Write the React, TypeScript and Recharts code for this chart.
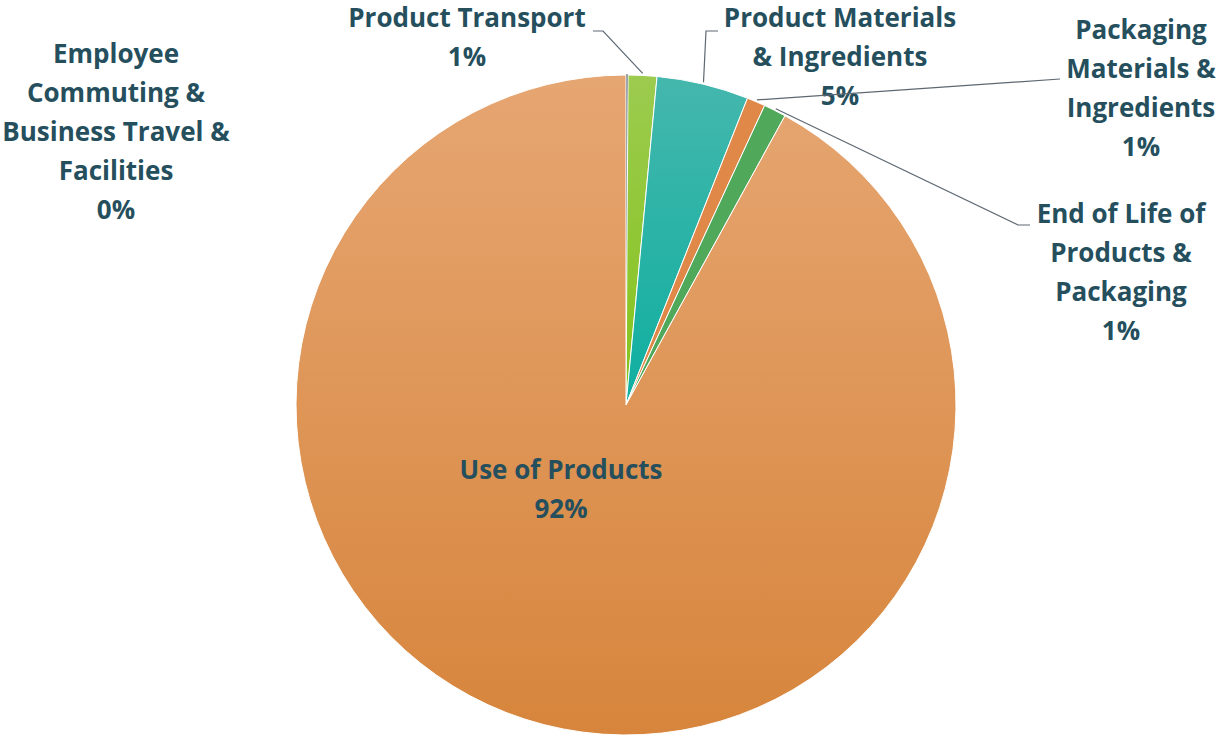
import React from "react";
import { PieChart, Pie, Cell } from "recharts";

const categories = [
  "Employee Commuting & Business Travel & Facilities",
  "Product Transport",
  "Product Materials & Ingredients",
  "Packaging Materials & Ingredients",
  "End of Life of Products & Packaging",
  "Use of Products",
];
const values = [0.1, 1.4, 4.5, 0.9, 1.1, 92.0];
const percentLabels = ["0%", "1%", "5%", "1%", "1%", "92%"];
const labelLines = [
  ["Employee", "Commuting &", "Business Travel &", "Facilities"],
  ["Product Transport"],
  ["Product Materials", "& Ingredients"],
  ["Packaging", "Materials &", "Ingredients"],
  ["End of Life of", "Products &", "Packaging"],
  ["Use of Products"],
];

const fills = [
  "#3f4d5c",
  "url(#gTransport)",
  "url(#gTeal)",
  "#e08848",
  "#50a85a",
  "url(#gUse)",
];
const strokes = ["#3f4d5c", "#ffffff", "#ffffff", "#ffffff", "#ffffff", "#ffffff"];

// label layout relative to pie centre (x centre of text, first baseline), and leader-line elbow/end
const labelLayout = [
  { x: -510, y: -342, leader: null as null | number[][] },
  { x: -159, y: -378, leader: [[-23, -374], [-33, -374]] },
  { x: 214, y: -378, leader: [[80, -374], [92, -374]] },
  { x: 515, y: -366, leader: [[434, -326]] },
  { x: 495, y: -182, leader: [[392, -180], [404, -180]] },
  { x: -65, y: 74, leader: null },
];

const data = categories.map((name, i) => ({ name, value: values[i] }));

const RAD = Math.PI / 180;
const LINE_H = 39;
const TEXT_COLOR = "#254f5d";

const renderLabel = (props: any) => {
  const { cx, cy, midAngle, outerRadius, index } = props;
  const lay = labelLayout[index];
  const lines = [...labelLines[index], percentLabels[index]];
  let path: string | null = null;
  if (lay.leader) {
    const r = outerRadius + 2;
    const sx = cx + r * Math.cos(-midAngle * RAD);
    const sy = cy + r * Math.sin(-midAngle * RAD);
    path = `M${sx},${sy}` + lay.leader.map((p) => ` L${cx + p[0]},${cy + p[1]}`).join("");
  }
  return (
    <g key={`lbl-${index}`}>
      {path && <path d={path} stroke="#5d6872" strokeWidth={1.2} fill="none" />}
      {lines.map((t, k) => (
        <text
          key={k}
          x={cx + lay.x}
          y={cy + lay.y + k * LINE_H}
          textAnchor="middle"
          fill={TEXT_COLOR}
          fontFamily="'Open Sans', sans-serif"
          fontWeight={700}
          fontSize={26}
        >
          {t}
        </text>
      ))}
    </g>
  );
};

export default function App() {
  return (
    <div style={{ position: "absolute", left: 0, top: 0, width: 1230, height: 735, background: "#fff" }}>
      <PieChart width={1230} height={735} margin={{ top: 0, right: 0, bottom: 0, left: 0 }}>
        <defs>
          <linearGradient id="gUse" x1="0" y1="0" x2="0" y2="1">
            <stop offset="0%" stopColor="#e6a672" />
            <stop offset="100%" stopColor="#d7853c" />
          </linearGradient>
          <linearGradient id="gTransport" x1="0" y1="0" x2="0" y2="1">
            <stop offset="0%" stopColor="#9ccb4f" />
            <stop offset="100%" stopColor="#84c31a" />
          </linearGradient>
          <linearGradient id="gTeal" x1="0" y1="0" x2="0" y2="1">
            <stop offset="0%" stopColor="#45b7ad" />
            <stop offset="100%" stopColor="#0eafa0" />
          </linearGradient>
        </defs>
        <Pie
          data={data}
          dataKey="value"
          nameKey="name"
          cx={626}
          cy={405}
          outerRadius={330}
          startAngle={90}
          endAngle={-270}
          stroke="#ffffff"
          strokeWidth={1}
          label={renderLabel}
          labelLine={false}
          isAnimationActive={false}
        >
          {data.map((d, i) => (
            <Cell key={d.name} fill={fills[i]} stroke={strokes[i]} />
          ))}
        </Pie>
      </PieChart>
    </div>
  );
}
